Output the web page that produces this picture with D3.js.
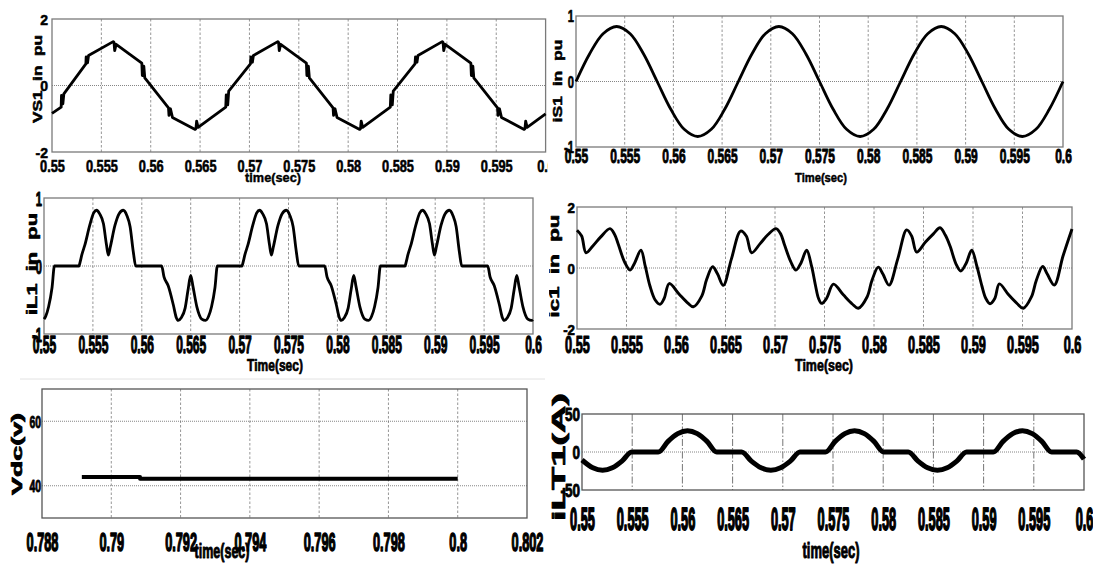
<!DOCTYPE html>
<html>
<head>
<meta charset="utf-8">
<script src="https://cdn.jsdelivr.net/npm/d3@7"></script>
<style>
html,body{margin:0;padding:0;background:#fff;}
svg{display:block;}
</style>
</head>
<body>
<svg id="chart" width="1093" height="565"></svg>
<script>
// ---------------- DATA ----------------
const xTicksA = [0.55,0.555,0.56,0.565,0.57,0.575,0.58,0.585,0.59,0.595,0.6];
const xLabelsA = ["0.55","0.555","0.56","0.565","0.57","0.575","0.58","0.585","0.59","0.595","0.6"];
const xTicksB = [0.788,0.79,0.792,0.794,0.796,0.798,0.8,0.802];
const xLabelsB = ["0.788","0.79","0.792","0.794","0.796","0.798","0.8","0.802"];

const vs1Ticks = [-2,0,2];
const vs1Points = [
 [0.55,-0.84],
 [0.55093,-0.65],[0.55096,-0.30],[0.5511,-0.55],[0.5512,-0.25],
 [0.55343,0.65],[0.55346,0.86],[0.5536,0.68],[0.5537,0.90],
 [0.5562,1.32],[0.55628,1.30],[0.55635,1.05],[0.5565,1.24],
 [0.5591,0.67],[0.55915,0.30],[0.5593,0.58],[0.5594,0.23],
 [0.5618,-0.67],[0.56185,-0.90],[0.562,-0.70],[0.5622,-0.96],
 [0.5645,-1.32],[0.56458,-1.30],[0.56465,-1.07],[0.5648,-1.26],
 [0.5676,-0.65],[0.56765,-0.28],[0.5678,-0.58],[0.5679,-0.17],
 [0.5701,0.65],[0.57015,0.86],[0.5703,0.70],[0.5704,0.90],
 [0.57287,1.32],[0.57295,1.30],[0.57302,1.05],[0.57317,1.24],
 [0.57577,0.67],[0.57582,0.30],[0.57597,0.58],[0.57607,0.23],
 [0.57847,-0.67],[0.57852,-0.90],[0.57867,-0.70],[0.57887,-0.96],
 [0.58117,-1.32],[0.58125,-1.30],[0.58132,-1.07],[0.58147,-1.26],
 [0.58427,-0.65],[0.58432,-0.28],[0.58447,-0.58],[0.58457,-0.17],
 [0.58677,0.65],[0.58682,0.86],[0.58697,0.70],[0.58707,0.90],
 [0.58953,1.32],[0.58961,1.30],[0.58968,1.05],[0.58983,1.24],
 [0.59243,0.67],[0.59248,0.30],[0.59263,0.58],[0.59273,0.23],
 [0.59513,-0.67],[0.59518,-0.90],[0.59533,-0.70],[0.59553,-0.96],
 [0.59783,-1.32],[0.59791,-1.30],[0.59798,-1.07],[0.59813,-1.26],
 [0.6,-0.85]
];

const is1Ticks = [-1,0,1];
const is1Points = [
 [0.55,0],[0.55139,0.42],[0.55278,0.73],[0.55417,0.84],[0.55556,0.73],[0.55694,0.42],
 [0.55833,0],[0.55972,-0.42],[0.56111,-0.73],[0.5625,-0.84],[0.56389,-0.73],[0.56528,-0.42],
 [0.56667,0],[0.56806,0.42],[0.56944,0.73],[0.57083,0.84],[0.57222,0.73],[0.57361,0.42],
 [0.575,0],[0.57639,-0.42],[0.57778,-0.73],[0.57917,-0.84],[0.58056,-0.73],[0.58194,-0.42],
 [0.58333,0],[0.58472,0.42],[0.58611,0.73],[0.5875,0.84],[0.58889,0.73],[0.59028,0.42],
 [0.59167,0],[0.59306,-0.42],[0.59444,-0.73],[0.59583,-0.84],[0.59722,-0.73],[0.59861,-0.42],
 [0.6,0]
];

const il1Ticks = [-1,0,1];
const il1Points = [
 [0.55,-0.78],[0.55017,-0.74],[0.55047,-0.60],[0.55082,-0.32],[0.55107,0],[0.55358,0],
 [0.55368,0.05],[0.55388,0.17],[0.55418,0.31],[0.55468,0.60],[0.55508,0.78],[0.55538,0.82],
 [0.55568,0.77],[0.55608,0.62],[0.55638,0.32],[0.55658,0.16],[0.55678,0.28],[0.55726,0.60],
 [0.55768,0.77],[0.55811,0.82],[0.55848,0.74],[0.5588,0.58],[0.55913,0.21],[0.55938,0],
 [0.56203,0],[0.56227,-0.16],[0.5627,-0.29],[0.56322,-0.57],[0.56353,-0.76],[0.56373,-0.80],
 [0.56403,-0.76],[0.56443,-0.62],[0.56473,-0.35],[0.565,-0.14],[0.56523,-0.30],[0.56563,-0.60],
 [0.56613,-0.78],[0.56653,-0.80],[0.56683,-0.74],[0.56713,-0.60],[0.56748,-0.32],[0.56773,0],
 [0.57025,0],[0.57035,0.05],[0.57055,0.17],[0.57085,0.31],[0.57135,0.60],[0.57175,0.78],
 [0.57205,0.82],[0.57235,0.77],[0.57275,0.62],[0.57305,0.32],[0.57325,0.16],[0.57345,0.28],
 [0.57393,0.60],[0.57435,0.77],[0.57478,0.82],[0.57515,0.74],[0.57547,0.58],[0.5758,0.21],
 [0.57605,0],[0.5787,0],[0.57894,-0.16],[0.57937,-0.29],[0.57989,-0.57],[0.5802,-0.76],
 [0.5804,-0.80],[0.5807,-0.76],[0.5811,-0.62],[0.5814,-0.35],[0.58167,-0.14],[0.5819,-0.30],
 [0.5823,-0.60],[0.5828,-0.78],[0.5832,-0.80],[0.5835,-0.74],[0.5838,-0.60],[0.58415,-0.32],
 [0.5844,0],[0.58692,0],[0.58702,0.05],[0.58722,0.17],[0.58752,0.31],[0.58802,0.60],
 [0.58842,0.78],[0.58872,0.82],[0.58902,0.77],[0.58942,0.62],[0.58972,0.32],[0.58992,0.16],
 [0.59012,0.28],[0.5906,0.60],[0.59102,0.77],[0.59145,0.82],[0.59182,0.74],[0.59214,0.58],
 [0.59247,0.21],[0.59272,0],[0.59537,0],[0.59561,-0.16],[0.59604,-0.29],[0.59656,-0.57],
 [0.59687,-0.76],[0.59707,-0.80],[0.59737,-0.76],[0.59777,-0.62],[0.59807,-0.35],[0.59834,-0.14],
 [0.59857,-0.30],[0.59897,-0.60],[0.59947,-0.78],[0.59987,-0.80],[0.6,-0.79]
];

const ic1Ticks = [-2,0,2];
const ic1Points = [
 [0.55,1.24],[0.55047,1.05],[0.55091,0.50],[0.5516,0.72],[0.5524,1.02],[0.55333,1.29],
 [0.5538,1.10],[0.55417,0.78],[0.5548,0.20],[0.55535,-0.07],[0.5558,0.15],[0.55646,0.58],
 [0.5569,0.05],[0.55737,-0.59],[0.5579,-1.05],[0.55838,-1.19],[0.5588,-1.00],[0.55932,-0.51],
 [0.5603,-0.85],[0.5612,-1.15],[0.56175,-1.27],[0.5626,-0.92],[0.5631,-0.37],[0.5637,0.04],
 [0.5642,-0.20],[0.56478,-0.57],[0.5656,0.30],[0.56653,1.21],[0.5671,1.05],[0.56764,0.50],
 [0.5685,0.80],[0.5693,1.10],[0.5701,1.29],[0.5706,1.10],[0.57094,0.78],[0.5716,0.20],
 [0.57212,-0.07],[0.5726,0.15],[0.5732,0.58],[0.5737,0.05],[0.5741,-0.59],[0.5744,-1.00],
 [0.57471,-1.16],[0.5752,-1.00],[0.5759,-0.53],[0.5769,-0.88],[0.5778,-1.18],[0.57841,-1.32],
 [0.5793,-0.95],[0.5798,-0.40],[0.58043,0.03],[0.5809,-0.20],[0.58152,-0.56],[0.5824,0.30],
 [0.5833,1.25],[0.5838,1.05],[0.58431,0.52],[0.5852,0.85],[0.586,1.12],[0.58667,1.32],
 [0.5872,1.08],[0.58768,0.72],[0.5883,0.12],[0.58876,-0.10],[0.5893,0.15],[0.58987,0.58],
 [0.5904,0.05],[0.5909,-0.59],[0.5913,-1.00],[0.59172,-1.17],[0.5922,-1.00],[0.59266,-0.52],
 [0.5936,-0.88],[0.5945,-1.18],[0.59508,-1.32],[0.5959,-0.95],[0.5964,-0.40],[0.59704,0.05],
 [0.5975,-0.20],[0.59821,-0.56],[0.5991,0.40],[0.6,1.28]
];

const vdcTicks = [40,60];
const vdcPoints = [[0.78915,42.7],[0.79083,42.7],[0.79083,42.2],[0.8,42.2]];

const ilt1Ticks = [-50,0,50];
const ilt1Points = [
 [0.55,-10.5],[0.55108,-20.8],[0.55205,-24],[0.55302,-20.8],[0.55398,-12],[0.55495,0],
 [0.5576,0],[0.55857,14],[0.55954,24.2],[0.56051,28],[0.56148,24.2],[0.56245,14],[0.56342,0],
 [0.5659,0],[0.56687,-12],[0.56784,-20.8],[0.56881,-24],[0.56978,-20.8],[0.57075,-12],[0.57171,0],
 [0.57425,0],[0.57522,14],[0.57618,24.2],[0.57715,28],[0.57812,24.2],[0.57908,14],[0.58005,0],
 [0.5825,0],[0.58347,-12],[0.58443,-20.8],[0.5854,-24],[0.58637,-20.8],[0.58733,-12],[0.5883,0],
 [0.59097,0],[0.59194,14],[0.5929,24.2],[0.59387,28],[0.59484,24.2],[0.5958,14],[0.59677,0],
 [0.59927,0],[0.6,-9.5]
];

// ---------------- DRAW ----------------
const FONT = "'Liberation Sans', Arial, Helvetica, sans-serif";
const svg = d3.select("#chart");

function textStyle(sel, fs, ink){
  sel.style("font-family", FONT).style("font-weight", "bold").style("font-size", fs+"px")
    .attr("fill", "#000").attr("stroke", "#000").attr("stroke-width", ink).attr("stroke-linejoin", "round");
}

// text stretched to a given length (sx fitted), with extra thickness scale sy
function title(g, str, cx, cy, fs, len, sy, rotated, ink){
  const t = g.append("text").attr("x", 0).attr("y", 0).attr("text-anchor", "middle")
    .style("white-space", "pre").text(str);
  textStyle(t, fs, ink);
  if (rotated) t.attr("dominant-baseline", "central");
  const n = t.node().getComputedTextLength();
  const sx = len / n;
  t.attr("transform", `translate(${cx},${cy})${rotated ? " rotate(-90)" : ""} scale(${sx},${sy})`);
}

function panel(c){
  const id = "clip"+c.name;
  svg.append("clipPath").attr("id", id).append("rect")
    .attr("x", c.clip[0]).attr("y", c.clip[1]).attr("width", c.clip[2]).attr("height", c.clip[3]);
  const g = svg.append("g").attr("clip-path", `url(#${id})`);

  const x = d3.scaleLinear().domain(c.xDomain).range([c.left, c.right]);
  const y = d3.scaleLinear().domain(c.yDomain).range([c.bottom, c.top]);

  // grid
  g.append("g").selectAll("line").data(c.xTicks.slice(1, -1)).join("line")
    .attr("x1", d=>x(d)).attr("x2", d=>x(d)).attr("y1", c.top).attr("y2", c.bottom)
    .attr("stroke", c.vGridColor || "#8a8a8a").attr("stroke-width", 0.9)
    .attr("stroke-dasharray", c.vDash || "2.5,2");
  g.append("g").selectAll("line").data(c.yGrid).join("line")
    .attr("x1", c.left).attr("x2", c.right).attr("y1", d=>y(d)).attr("y2", d=>y(d))
    .attr("stroke", "#777").attr("stroke-width", 0.9).attr("stroke-dasharray", "1,1");

  // frame
  g.append("rect").attr("x", c.left).attr("y", c.top)
    .attr("width", c.right-c.left).attr("height", c.bottom-c.top)
    .attr("fill", "none").attr("stroke", c.frameColor || "#7a7a7a").attr("stroke-width", 1.3);

  // data line
  const line = d3.line().x(d=>x(d[0])).y(d=>y(d[1])).curve(c.curve || d3.curveLinear);
  g.append("path").datum(c.data).attr("d", line)
    .attr("fill", "none").attr("stroke", "#000").attr("stroke-width", c.lw)
    .attr("stroke-linejoin", "round").attr("stroke-linecap", "butt");

  // x tick labels
  const ax = g.append("g").attr("transform", `translate(0,${c.xLabBase})`)
    .call(d3.axisBottom(x).tickValues(c.xTicks).tickFormat((d,i)=>c.xLabels[i]).tickSize(0));
  ax.select(".domain").remove();
  ax.attr("font-family", null).attr("font-size", null);
  const xtx = ax.selectAll("text").attr("y", 0).attr("dy", 0)
    .attr("transform", `scale(${c.xT[1]},${c.xT[2]})`);
  textStyle(xtx, c.xT[0], c.xT[3]);

  // y tick labels
  const ay = g.append("g").attr("transform", `translate(${c.yLabRight},0)`)
    .call(d3.axisLeft(y).tickValues(c.yTicks).tickFormat(d=>String(d)).tickSize(0));
  ay.select(".domain").remove();
  ay.attr("font-family", null).attr("font-size", null);
  const ytx = ay.selectAll("text").attr("x", 0).attr("dy", "0.36em")
    .attr("transform", `scale(${c.yT[1]},${c.yT[2]})`);
  textStyle(ytx, c.yT[0], c.yT[3]);

  // titles
  const xt = c.xTitle, yt = c.yTitle;
  title(g, xt[0], xt[1], xt[2], xt[3], xt[4], xt[5], false, xt[6]);
  title(g, yt[0], yt[1], yt[2], yt[3], yt[4], yt[5], true, yt[6]);
}

panel({name:"vs1", clip:[0,0,548,186], left:52, right:545.6, top:19, bottom:152,
  xDomain:[0.55,0.6], yDomain:[-2,2], xTicks:xTicksA, xLabels:xLabelsA, yTicks:vs1Ticks, yGrid:[0],
  data:vs1Points, lw:2.8, curve:d3.curveLinear,
  xLabBase:172, xT:[15,0.85,1.08,0.55], yLabRight:48, yT:[14,1,1,0.5],
  xTitle:["time(sec)",273,182,13,56,1.0,0.4], yTitle:["VS1  in  pu",37,79,13,88,1.0,0.5]});

panel({name:"is1", clip:[549,0,544,186], left:576, right:1063, top:16, bottom:147,
  xDomain:[0.55,0.6], yDomain:[-1,1], xTicks:xTicksA, xLabels:xLabelsA, yTicks:is1Ticks, yGrid:[0],
  data:is1Points, lw:2.8, curve:d3.curveCatmullRom,
  xLabBase:163, xT:[15,0.8,1.4,0.7], yLabRight:574, yT:[14,0.8,1.17,0.55],
  xTitle:["Time(sec)",821,182,12,52,1.1,0.45], yTitle:["iS1  in  pu",557,81,13,83,1.0,0.5]});

panel({name:"il1", clip:[0,186,548,190], left:44, right:533, top:198, bottom:334,
  xDomain:[0.55,0.6], yDomain:[-1,1], xTicks:xTicksA, xLabels:xLabelsA, yTicks:il1Ticks, yGrid:[0],
  data:il1Points, lw:2.8, curve:d3.curveMonotoneX,
  xLabBase:353, xT:[16,0.75,1.5,0.85], yLabRight:42, yT:[14,0.8,1.4,0.7],
  xTitle:["Time(sec)",275,371,13,56,1.3,0.55], yTitle:["iL1  in  pu",32,264,14,102,1.0,0.55]});

panel({name:"ic1", clip:[549,186,544,190], left:577, right:1072, top:207, bottom:329,
  xDomain:[0.55,0.6], yDomain:[-2,2], xTicks:xTicksA, xLabels:xLabelsA, yTicks:ic1Ticks, yGrid:[0],
  data:ic1Points, lw:2.9, curve:d3.curveCatmullRom,
  xLabBase:353, xT:[17,0.75,1.45,0.85], yLabRight:575, yT:[14,0.95,1.1,0.6],
  xTitle:["Time(sec)",824,371,13,58,1.3,0.55], yTitle:["ic1  in  pu",554,266,14,103,1.0,0.55]});

panel({name:"vdc", clip:[0,376,548,189], left:42, right:527, top:389, bottom:518,
  xDomain:[0.788,0.802], yDomain:[30,70], xTicks:xTicksB, xLabels:xLabelsB, yTicks:vdcTicks, yGrid:[40,60],
  data:vdcPoints, lw:4, curve:d3.curveLinear, frameColor:"#555",
  xLabBase:551, xT:[17,0.75,1.56,1.0], yLabRight:41, yT:[13,0.8,1.3,0.7],
  xTitle:["time(sec)",222,558,14,55,1.5,0.65], yTitle:["Vdc(v)",17,454,15,82,1.0,0.7]});

panel({name:"ilt1", clip:[549,376,544,189], left:582, right:1084, top:414, bottom:490,
  xDomain:[0.55,0.6], yDomain:[-50,50], xTicks:xTicksA, xLabels:xLabelsA, yTicks:ilt1Ticks, yGrid:[0],
  data:ilt1Points, lw:5, curve:d3.curveMonotoneX, vDash:"7,2,1.5,2", vGridColor:"#666", frameColor:"#555",
  xLabBase:530, xT:[17,0.75,1.8,1.05], yLabRight:580, yT:[15,0.9,1.2,0.7],
  xTitle:["time(sec)",831,558,14,57,1.6,0.65], yTitle:["iLT1(A)",558,457,19,128,1.0,0.7]});

// thin separator line above the Vdc panel
svg.append("line").attr("x1", 20).attr("x2", 545).attr("y1", 379).attr("y2", 379)
  .attr("stroke", "#e2e2e2").attr("stroke-width", 1);
</script>
</body>
</html>
